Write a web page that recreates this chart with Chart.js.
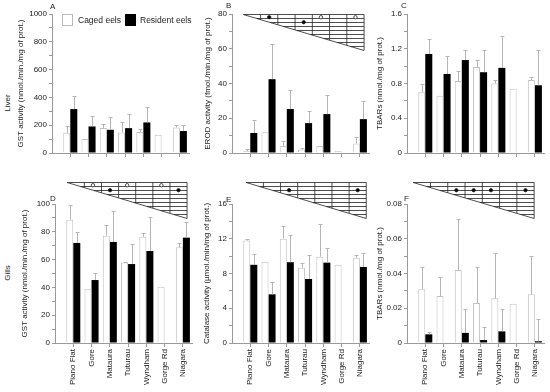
<!DOCTYPE html>
<html>
<head>
<meta charset="utf-8">
<script src="https://cdn.jsdelivr.net/npm/chart.js@4.4.0/dist/chart.umd.min.js"></script>
<style>
body { margin: 0; background: #fff; }
#fig { position: relative; width: 550px; height: 392px; overflow: hidden; font-family: "Liberation Sans", Arial, sans-serif; color: #222; }
#fig canvas { position: absolute; }
.txt { position: absolute; font-size: 8px; white-space: nowrap; line-height: 1; }
.rot { position: absolute; font-size: 8px; white-space: nowrap; line-height: 1; transform: translate(-50%, -50%) rotate(-90deg); }
.box { position: absolute; box-sizing: border-box; }
</style>
</head>
<body>
<div id="fig">
  <canvas id="pA"></canvas>
  <canvas id="pB"></canvas>
  <canvas id="pC"></canvas>
  <canvas id="pD"></canvas>
  <canvas id="pE"></canvas>
  <canvas id="pF"></canvas>

  <div class="box" style="left:62px;top:14px;width:11px;height:12px;border:1px solid #bbb;background:#fff"></div>
  <div class="txt" style="left:78px;top:16px;font-size:8.5px">Caged eels</div>
  <div class="box" style="left:125px;top:14px;width:11px;height:12px;background:#000"></div>
  <div class="txt" style="left:140px;top:16px;font-size:8.5px">Resident eels</div>

  <div class="txt" style="left:50px;top:3px">A</div>
  <div class="txt" style="left:226px;top:2px">B</div>
  <div class="txt" style="left:401px;top:2px">C</div>
  <div class="txt" style="left:50px;top:195px">D</div>
  <div class="txt" style="left:226px;top:196px">E</div>
  <div class="txt" style="left:404px;top:195px">F</div>

  <div class="rot" style="left:8px;top:103px">Liver</div>
  <div class="rot" style="left:8px;top:273px">Gills</div>
</div>

<script>
Chart.defaults.font.family = '"Liberation Sans", Arial, sans-serif';
Chart.defaults.color = '#222';

var sites = ['Piano Flat', 'Gore', 'Mataura', 'Tuturau', 'Wyndham', 'Gorge Rd', 'Niagara'];

// A - liver GST
var gst_liver_caged = [145, 100, 180, 148, 151, 132, 184];
var gst_liver_caged_err = [46, null, 30, 74, 21, null, 14];
var gst_liver_resident = [316, 191, 167, 179, 220, null, 158];
var gst_liver_resident_err = [91, 77, 91, 101, 110, null, 45];

// B - liver EROD
var erod_caged = [1, 12, 4, 2, 4, 1.2, 5.5];
var erod_caged_err = [1.5, null, 3, 1, null, null, 3.5];
var erod_resident = [11.5, 42.5, 25.3, 17.2, 22.4, null, 19.5];
var erod_resident_err = [7.5, 20.5, 10.7, 6.8, 10.9, null, 10.5];
var erod_marks_caged = [null, 'f', null, null, 'o', null, 'o'];
var erod_marks_resident = [null, null, null, 'f', null, null, null];

// C - liver TBARs
var tbars_liver_caged = [0.70, 0.66, 0.83, 0.99, 0.80, 0.74, 0.84];
var tbars_liver_caged_err = [0.10, null, 0.11, 0.08, 0.04, null, 0.03];
var tbars_liver_resident = [1.14, 0.91, 1.07, 0.93, 0.98, null, 0.78];
var tbars_liver_resident_err = [0.17, 0.21, 0.11, 0.25, 0.37, null, 0.40];

// D - gill GST
var gst_gill_caged = [88.7, 39, 77.2, 58, 76.5, 40.5, 68.8];
var gst_gill_caged_err = [10.8, null, 7.8, 0.5, 2.6, null, 3.4];
var gst_gill_resident = [72, 45.3, 72.7, 56.8, 66.2, null, 75.8];
var gst_gill_resident_err = [7.6, 5.1, 22.5, 14.2, 24.2, null, 11.2];
var gst_gill_marks_caged = [null, 'o', null, 'o', null, 'o', null];
var gst_gill_marks_resident = [null, null, 'f', null, null, null, 'f'];

// E - gill catalase
var cat_caged = [11.8, 9.36, 12.0, 8.67, 9.94, 9.0, 9.8];
var cat_caged_err = [0.2, null, 1.5, 0.5, 3.76, null, 0.3];
var cat_resident = [9.0, 5.6, 9.3, 7.37, 9.25, null, 8.75];
var cat_resident_err = [1.3, 1.4, 3.1, 2.73, 1.65, null, 1.65];
var cat_marks_caged = [null, null, null, null, null, null, null];
var cat_marks_resident = [null, null, 'f', null, null, null, 'f'];

// F - gill TBARs
var tbars_gill_caged = [0.031, 0.027, 0.042, 0.023, 0.0257, 0.0226, 0.028];
var tbars_gill_caged_err = [0.0125, 0.0108, 0.0294, 0.021, 0.0263, null, 0.022];
var tbars_gill_resident = [0.005, null, 0.0058, 0.0017, 0.0067, null, 0.001];
var tbars_gill_resident_err = [0.0013, null, 0.014, 0.0077, 0.0127, null, 0.0128];
var tbars_gill_marks_caged = [null, null, null, null, null, null, null];
var tbars_gill_marks_resident = [null, null, 'f', 'f', 'f', null, 'f'];

var AREA_W = 137;   // x from -1 to 6.5

var errorBars = {
    id: 'errorBars',
    afterDatasetsDraw: function(chart) {
        var ctx = chart.ctx, y = chart.scales.y;
        chart.data.datasets.forEach(function(ds, di) {
            chart.getDatasetMeta(di).data.forEach(function(bar, i) {
                var v = ds.data[i].y, e = ds.err[i];
                if (v == null || !e) return;
                var top = Math.round(y.getPixelForValue(v + e)) + 0.5;
                var x = Math.round(bar.x) + 0.5;
                ctx.save();
                ctx.strokeStyle = '#b5b5b5';
                ctx.lineWidth = 1;
                ctx.beginPath();
                ctx.moveTo(x, bar.y);
                ctx.lineTo(x, top);
                ctx.moveTo(x - 2, top);
                ctx.lineTo(x + 2, top);
                ctx.stroke();
                ctx.restore();
            });
        });
    }
};

function make_wedge(w) {
    return {
        id: 'wedge',
        afterDraw: function(chart) {
            if (!w) return;
            var ctx = chart.ctx, xs = chart.scales.x;
            var x0 = xs.getPixelForValue(w.from), x1 = xs.getPixelForValue(w.to);
            var t = chart.chartArea.top - w.lift + 0.5, b = t + 36;
            var slope = (b - t) / (x1 - x0);
            var cw = (x1 - x0) / 7;
            ctx.save();
            ctx.strokeStyle = '#222';
            ctx.lineWidth = 0.8;
            ctx.beginPath();
            ctx.moveTo(x0, t);
            ctx.lineTo(x1, t);
            ctx.lineTo(x1, b);
            ctx.closePath();
            for (var k = 1; k < 9; k++) {
                var yy = t + k * 4;
                ctx.moveTo(x0 + (yy - t) / slope, yy);
                ctx.lineTo(x1, yy);
            }
            for (var c = 1; c < 7; c++) {
                var xx = x0 + c * cw;
                ctx.moveTo(xx, t);
                ctx.lineTo(xx, t + (xx - x0) * slope);
            }
            ctx.stroke();
            [w.row1, w.row2].forEach(function(row, r) {
                row.forEach(function(m, i) {
                    if (!m) return;
                    ctx.beginPath();
                    ctx.arc(x0 + (i + 0.5) * cw, t + 2.7 + r * 5, 1.7, 0, 2 * Math.PI);
                    ctx.fillStyle = m === 'f' ? '#000' : '#fff';
                    ctx.fill();
                    ctx.stroke();
                });
            });
            ctx.restore();
        }
    };
}

function fmt(v) {
    if (v === 0) return '0';
    return String(+v.toFixed(4));
}

function draw_panel(id, p) {
    var canvas = document.getElementById(id);
    var w = p.axisX - p.left + AREA_W + 8;
    canvas.width = w;
    canvas.height = p.height;
    canvas.style.left = p.left + 'px';
    canvas.style.top = p.top + 'px';
    var xy = function(arr) { return arr.map(function(v, i) { return {x: i, y: v}; }); };

    new Chart(canvas.getContext('2d'), {
        type: 'bar',
        data: {
            datasets: [{
                label: 'Caged eels',
                data: xy(p.caged),
                err: p.cagedErr,
                backgroundColor: '#fff',
                borderColor: '#c2c2c2',
                borderWidth: 1
            }, {
                label: 'Resident eels',
                data: xy(p.resident),
                err: p.residentErr,
                backgroundColor: '#000',
                borderWidth: 0
            }]
        },
        options: {
            responsive: false,
            animation: false,
            devicePixelRatio: 1,
            categoryPercentage: 0.77,
            barPercentage: 1,
            layout: { padding: { top: p.padTop, right: 8, bottom: 0, left: 0 } },
            plugins: { legend: { display: false }, tooltip: { enabled: false } },
            scales: {
                x: {
                    type: 'linear',
                    min: -1,
                    max: 6.5,
                    offset: false,
                    afterBuildTicks: function(s) { s.ticks = sites.map(function(c, i) { return {value: i}; }); },
                    afterFit: function(s) { s.height = p.xHeight; },
                    ticks: {
                        autoSkip: false,
                        minRotation: 90,
                        maxRotation: 90,
                        padding: 2,
                        font: { size: 8 },
                        color: '#222',
                        callback: function(v) { return p.names ? sites[v] : ''; }
                    },
                    grid: { drawOnChartArea: false, tickLength: 4, color: '#9a9a9a', offset: false },
                    border: { color: '#9a9a9a' }
                },
                y: {
                    min: 0,
                    max: p.max,
                    afterBuildTicks: function(s) {
                        var t = [];
                        var n = Math.round(p.max / p.minor);
                        for (var k = 0; k <= n; k++) t.push({value: +(k * p.minor).toFixed(6)});
                        s.ticks = t;
                    },
                    afterFit: function(s) { s.width = p.axisX - p.left; },
                    ticks: {
                        autoSkip: false,
                        padding: 2,
                        font: { size: 8 },
                        color: '#222',
                        callback: function(v) {
                            var q = v / p.major;
                            return Math.abs(q - Math.round(q)) < 1e-6 ? fmt(v) : '';
                        }
                    },
                    grid: { drawOnChartArea: false, tickLength: 3, color: '#9a9a9a' },
                    border: { color: '#9a9a9a' },
                    title: { display: true, text: p.title, font: { size: 8 }, color: '#222', padding: 0 }
                }
            }
        },
        plugins: [errorBars, make_wedge(p.wedge)]
    });
}

var TOP = { top: 0, height: 170, padTop: 14, xHeight: 17, names: false };
var BOT = { top: 175, height: 217, padTop: 29, xHeight: 49, names: true };

draw_panel('pA', Object.assign({}, TOP, {
    left: 16, axisX: 52, max: 1000, major: 200, minor: 100,
    title: 'GST activity (nmol./min./mg of prot.)',
    caged: gst_liver_caged, cagedErr: gst_liver_caged_err,
    resident: gst_liver_resident, residentErr: gst_liver_resident_err
}));
draw_panel('pB', Object.assign({}, TOP, {
    left: 203, axisX: 232, max: 80, major: 20, minor: 10,
    title: 'EROD activity (fmol./min./mg of prot.)',
    caged: erod_caged, cagedErr: erod_caged_err,
    resident: erod_resident, residentErr: erod_resident_err,
    wedge: { from: -0.38, to: 6.23, lift: 0, row1: erod_marks_caged, row2: erod_marks_resident }
}));
draw_panel('pC', Object.assign({}, TOP, {
    left: 375, axisX: 407, max: 1.6, major: 0.4, minor: 0.2,
    title: 'TBARs (nmol./mg of prot.)',
    caged: tbars_liver_caged, cagedErr: tbars_liver_caged_err,
    resident: tbars_liver_resident, residentErr: tbars_liver_resident_err
}));
draw_panel('pD', Object.assign({}, BOT, {
    left: 20, axisX: 55, max: 100, major: 20, minor: 10,
    title: 'GST activity (nmol./min./mg of prot.)',
    caged: gst_gill_caged, cagedErr: gst_gill_caged_err,
    resident: gst_gill_resident, residentErr: gst_gill_resident_err,
    wedge: { from: -0.33, to: 6.23, lift: 22, row1: gst_gill_marks_caged, row2: gst_gill_marks_resident }
}));
draw_panel('pE', Object.assign({}, BOT, {
    left: 202, axisX: 232, max: 16, major: 4, minor: 2,
    title: 'Catalase activity (\u00b5mol./min/mg of prot.)',
    caged: cat_caged, cagedErr: cat_caged_err,
    resident: cat_resident, residentErr: cat_resident_err,
    wedge: { from: -0.22, to: 6.35, lift: 22, row1: cat_marks_caged, row2: cat_marks_resident }
}));
draw_panel('pF', Object.assign({}, BOT, {
    left: 375, axisX: 407, max: 0.08, major: 0.02, minor: 0.01,
    title: 'TBARs (nmol./mg of prot.)',
    caged: tbars_gill_caged, cagedErr: tbars_gill_caged_err,
    resident: tbars_gill_resident, residentErr: tbars_gill_resident_err,
    wedge: { from: -0.66, to: 5.96, lift: 22, row1: tbars_gill_marks_caged, row2: tbars_gill_marks_resident }
}));
</script>
</body>
</html>
